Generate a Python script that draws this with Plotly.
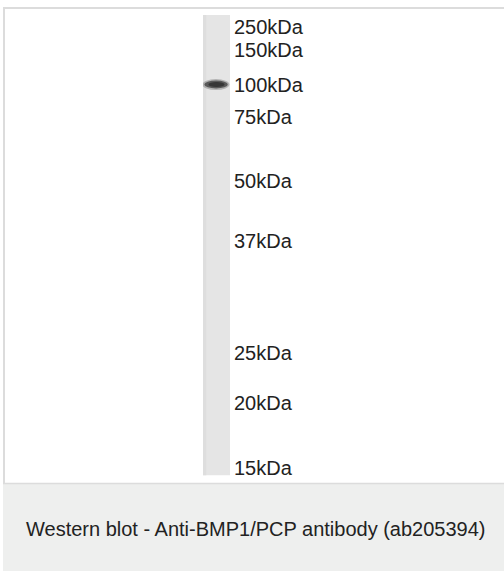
import plotly.graph_objects as go

# Marker ladder (labels) and their migration distance from top of lane (px in reference)
marker_labels = ["250kDa", "150kDa", "100kDa", "75kDa", "50kDa", "37kDa", "25kDa", "20kDa", "15kDa"]
marker_migration = [12, 35, 70, 103, 167, 227, 340, 390, 455]

# Detected band(s): migration distance, relative intensity
band_migration = [70]
band_intensity = [1.0]

lane_length = 463
caption = "Western blot - Anti-BMP1/PCP antibody (ab205394)"

W, H = 504, 574
lane_left, lane_right, lane_top, lane_bottom = 203, 230, 15, 478

fig = go.Figure()

# invisible trace to anchor axes
fig.add_trace(go.Scatter(x=[0, 1], y=[0, lane_length], mode="markers",
                         marker=dict(opacity=0), hoverinfo="skip", showlegend=False))

shapes = []
# card border (left and top), caption background
shapes.append(dict(type="rect", xref="paper", yref="paper", x0=3/W, x1=1.0,
                   y0=0, y1=1-486/H, fillcolor="#eeefee", line=dict(width=0), layer="below"))
shapes.append(dict(type="line", xref="paper", yref="paper", x0=3/W, x1=1.0,
                   y0=1-486/H, y1=1-486/H, line=dict(color="#dcdcdc", width=1.5)))
shapes.append(dict(type="line", xref="paper", yref="paper", x0=4/W, x1=4/W,
                   y0=1-486/H, y1=1-7/H, line=dict(color="#dcdcdc", width=2)))
shapes.append(dict(type="line", xref="paper", yref="paper", x0=3/W, x1=1.0,
                   y0=1-8/H, y1=1-8/H, line=dict(color="#dcdcdc", width=2)))

# lane
shapes.append(dict(type="rect", xref="x", yref="y", x0=0, x1=1, y0=0, y1=lane_length,
                   fillcolor="#e5e5e5", line=dict(width=0), layer="below"))
shapes.append(dict(type="rect", xref="x", yref="y", x0=0, x1=0.12, y0=0, y1=lane_length,
                   fillcolor="#dedede", line=dict(width=0), layer="below"))

# bands
for m, inten in zip(band_migration, band_intensity):
    shapes.append(dict(type="circle", xref="x", yref="y", x0=-0.02, x1=0.98,
                       y0=m - 5.5, y1=m + 5.5, fillcolor="rgba(90,90,90,%.2f)" % (0.35 * inten),
                       line=dict(width=0)))
    shapes.append(dict(type="circle", xref="x", yref="y", x0=0.05, x1=0.92,
                       y0=m - 4, y1=m + 4, fillcolor="rgba(60,60,60,%.2f)" % (0.75 * inten),
                       line=dict(width=0)))
    shapes.append(dict(type="circle", xref="x", yref="y", x0=0.2, x1=0.8,
                       y0=m - 2.5, y1=m + 2.5, fillcolor="rgba(40,40,40,%.2f)" % (0.7 * inten),
                       line=dict(width=0)))

fig.update_layout(
    width=W, height=H,
    margin=dict(l=0, r=0, t=0, b=0),
    paper_bgcolor="white", plot_bgcolor="rgba(0,0,0,0)",
    showlegend=False,
    shapes=shapes,
    xaxis=dict(domain=[lane_left/W, lane_right/W], range=[0, 1], visible=False, fixedrange=True),
    yaxis=dict(domain=[1-lane_bottom/H, 1-lane_top/H], range=[lane_length, 0],
               side="right", anchor="x", showgrid=False, zeroline=False, showline=False,
               ticks="", tickmode="array", tickvals=marker_migration, ticktext=marker_labels,
               ticklabelstandoff=3,
               tickfont=dict(family="Liberation Sans, Arial, sans-serif", size=20, color="#222222"),
               fixedrange=True),
    annotations=[dict(text=caption, xref="paper", yref="paper", x=255.5/W, y=1-532/H,
                      xanchor="center", yanchor="middle", showarrow=False,
                      font=dict(family="Liberation Sans, Arial, sans-serif", size=20,
                                color="#222222"))],
)

fig.write_html("out.html", config=dict(displayModeBar=False),
               post_script="document.body.style.margin='0';document.body.style.overflow='hidden';")
